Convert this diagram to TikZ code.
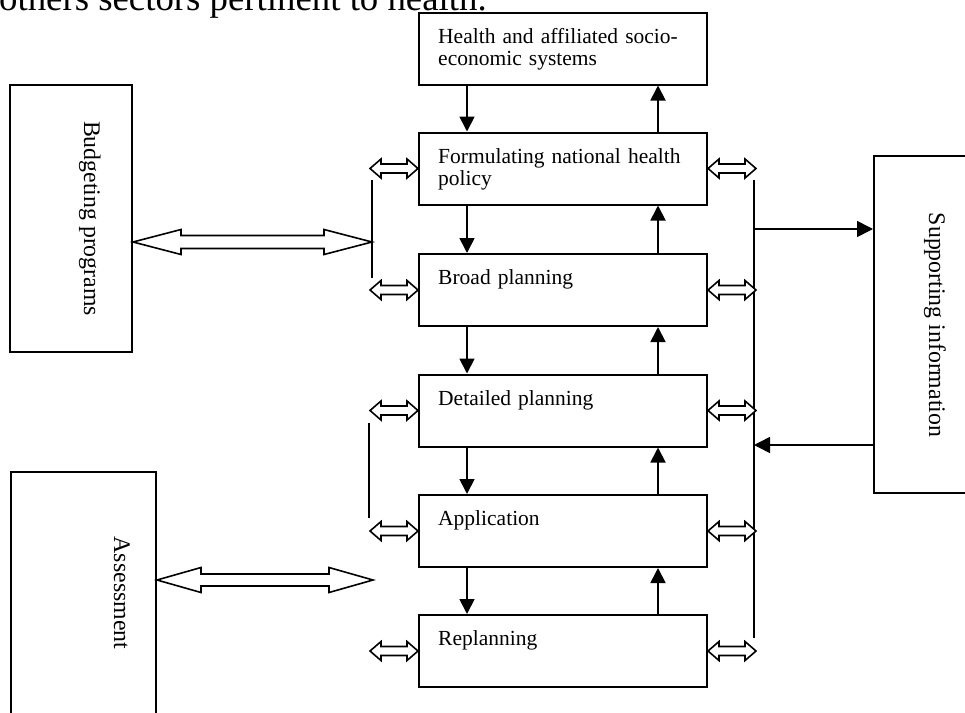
\documentclass[tikz,border=0pt]{standalone}
\usepackage{fontspec}
\setmainfont{Liberation Serif}
\usetikzlibrary{arrows.meta,calc}
% hollow double arrow between two named points (left #1, right #2)
\newcommand\dblarr[5]{%
  \draw[dblstyle] (#1) -- ($(#1)+(#3,-#4)$) -- ($(#1)+(#3,-#5)$)
    -- ($(#2)+(-#3,-#5)$) -- ($(#2)+(-#3,-#4)$) -- (#2)
    -- ($(#2)+(-#3,#4)$) -- ($(#2)+(-#3,#5)$)
    -- ($(#1)+(#3,#5)$) -- ($(#1)+(#3,#4)$) -- cycle;}
\begin{document}
\begin{tikzpicture}[x=1pt,y=-1pt,
  box/.style={draw, line width=2pt, inner sep=0pt, minimum width=288pt, minimum height=72pt},
  sidebox/.style={draw, line width=2pt, inner sep=0pt},
  btext/.style={anchor=base west, inner sep=0pt, text width=270pt, align=left,
                font=\fontsize{21.5}{22.7}\selectfont},
  vtext/.style={rotate=-90, anchor=base, inner sep=0pt, font=\fontsize{23.8}{26}\selectfont},
  arr/.style={line width=1.8pt, -{Triangle[length=15pt,width=15pt]}},
  harr/.style={line width=1.6pt, -{Triangle[length=16pt,width=16pt]}},
  vline/.style={line width=1.6pt},
  dblstyle/.style={line width=1.6pt, line join=miter, fill=white}]
\useasboundingbox (0,0) rectangle (965,712);
\fill[white] (0,0) rectangle (965,712);
\clip (0,0) rectangle (965,712);

% partly visible heading
\node[anchor=base west, inner sep=0pt, font=\fontsize{36.8}{40}\selectfont] (title) at (-1,10)
  {others sectors pertinent to health.};

% central column
\node[box] (H) at (563,48.5) {};
\node[box] (F) at (563,168.5) {};
\node[box] (B) at (563,290) {};
\node[box] (D) at (563,410.5) {};
\node[box] (A) at (563,531) {};
\node[box] (R) at (563,651) {};

\node[btext] (Ht) at ([shift={(20,31.5)}]H.north west) {Health and affiliated socio-\\economic systems};
\node[btext] (Ft) at ([shift={(20,31.5)}]F.north west) {Formulating national health\\policy};
\node[btext] (Bt) at ([shift={(20,31.5)}]B.north west) {Broad planning};
\node[btext] (Dt) at ([shift={(20,31.5)}]D.north west) {Detailed planning};
\node[btext] (At) at ([shift={(20,31.5)}]A.north west) {Application};
\node[btext] (Rt) at ([shift={(20,31.5)}]R.north west) {Replanning};

% side boxes
\node[sidebox, minimum width=122pt, minimum height=267pt] (BP) at (71,218.5) {};
\node[vtext] (BPt) at (84,218.5) {Budgeting programs};
\node[sidebox, minimum width=145pt, minimum height=258pt] (AS) at (83.5,601) {};
\node[vtext] (ASt) at (114,593) {Assessment};
\node[sidebox, minimum width=101pt, minimum height=337pt] (SI) at (924.5,324.5) {};
\node[vtext] (SIt) at (929,325) {Supporting information};

% vertical arrows between boxes
\foreach \u/\l in {H/F,F/B,B/D,D/A,A/R}{
  \draw[arr] ([xshift=-96pt]\u.south) -- ([xshift=-96pt]\l.north);
  \draw[arr] ([xshift=95pt]\l.north) -- ([xshift=95pt]\u.south);
}

% bus lines
\coordinate (L1t) at (372,180); \coordinate (L1b) at (372,278);
\coordinate (L2t) at (369,423); \coordinate (L2b) at (369,518);
\coordinate (Rtop) at (754,180); \coordinate (Rbot) at (754,638);
\draw[vline] (L1t) -- (L1b);
\draw[vline] (L2t) -- (L2b);
\draw[vline] (Rtop) -- (Rbot);

% arrows to / from supporting information
\coordinate (s1) at (754,229);
\coordinate (s2) at (754,445);
\draw[harr] (s1) -- (SI.west |- s1);
\draw[harr] (SI.west |- s2) -- (s2);

% small double arrows
\foreach \n in {F,B,D,A,R}{
  \coordinate (\n-l) at ($(\n.west)+(-48,0)$);
  \coordinate (\n-r) at ($(\n.east)+(48,0)$);
  \dblarr{\n-l}{\n.west}{11}{9.5}{4.5}
  \dblarr{\n.east}{\n-r}{11}{9.5}{4.5}
}

% big double arrows
\coordinate (y1) at (0,242);
\coordinate (y2) at (0,580);
\coordinate (bpE) at (BP.east |- y1);
\coordinate (L1m) at (L1t |- y1);
\coordinate (asE) at (AS.east |- y2);
\coordinate (asT) at (373,580);
\dblarr{bpE}{L1m}{48}{12.5}{6.5}
\dblarr{asE}{asT}{44}{12.5}{6}
\end{tikzpicture}
\end{document}
